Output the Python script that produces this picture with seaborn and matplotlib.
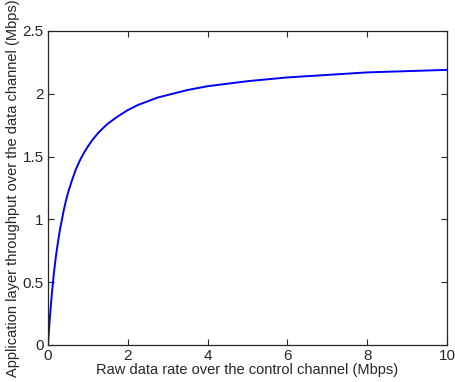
import numpy as np
import pandas as pd
import seaborn as sns
import matplotlib
matplotlib.use("Agg")
import matplotlib.pyplot as plt

# values
raw_rate = [0, 0.025, 0.05, 0.075, 0.1, 0.15, 0.2, 0.25, 0.3, 0.35, 0.4, 0.45,
            0.5, 0.6, 0.7, 0.8, 0.9, 1.0, 1.1, 1.25, 1.4, 1.5, 1.75, 2.0,
            2.25, 2.5, 2.75, 3.0, 3.5, 4.0, 4.5, 5.0, 6.0, 7.0, 8.0, 9.0, 10.0]
throughput = [0, 0.12, 0.23, 0.33, 0.42, 0.58, 0.71, 0.82, 0.92, 1.00, 1.08,
              1.15, 1.21, 1.31, 1.40, 1.47, 1.53, 1.58, 1.627, 1.685, 1.733, 1.762,
              1.82, 1.87, 1.91, 1.94, 1.97, 1.99, 2.03, 2.06, 2.08, 2.10, 2.13,
              2.15, 2.17, 2.18, 2.19]
xticks = [0, 2, 4, 6, 8, 10]
yticks = [0, 0.5, 1, 1.5, 2, 2.5]

df = pd.DataFrame({"rate": raw_rate, "thr": throughput})

sns.set_style("ticks")
plt.rcParams['font.family'] = ['Liberation Sans', 'DejaVu Sans']

fig = plt.figure(figsize=(4.55, 3.82), dpi=100)
ax = fig.add_axes([0.1055, 0.097, 0.877, 0.822])
sns.lineplot(data=df, x="rate", y="thr", ax=ax, color="#0000ff", linewidth=1.4)

ax.set_xlim(0, 10)
ax.set_ylim(0, 2.5)
ax.set_xticks(xticks)
ax.set_yticks(yticks)
ax.set_xticklabels([str(t) for t in xticks])
ax.set_yticklabels(["0", "0.5", "1", "1.5", "2", "2.5"])
ax.tick_params(direction="in", top=True, right=True, labelsize=11, length=4, width=0.8, pad=3)
for s in ax.spines.values():
    s.set_visible(True)
    s.set_linewidth(0.9)
ax.set_xlabel("Raw data rate over the control channel (Mbps)", fontsize=10.5, labelpad=0)
ax.set_ylabel("Application layer throughput over the data channel (Mbps)", fontsize=10.5, labelpad=2)

fig.savefig("out.png", dpi=100)
